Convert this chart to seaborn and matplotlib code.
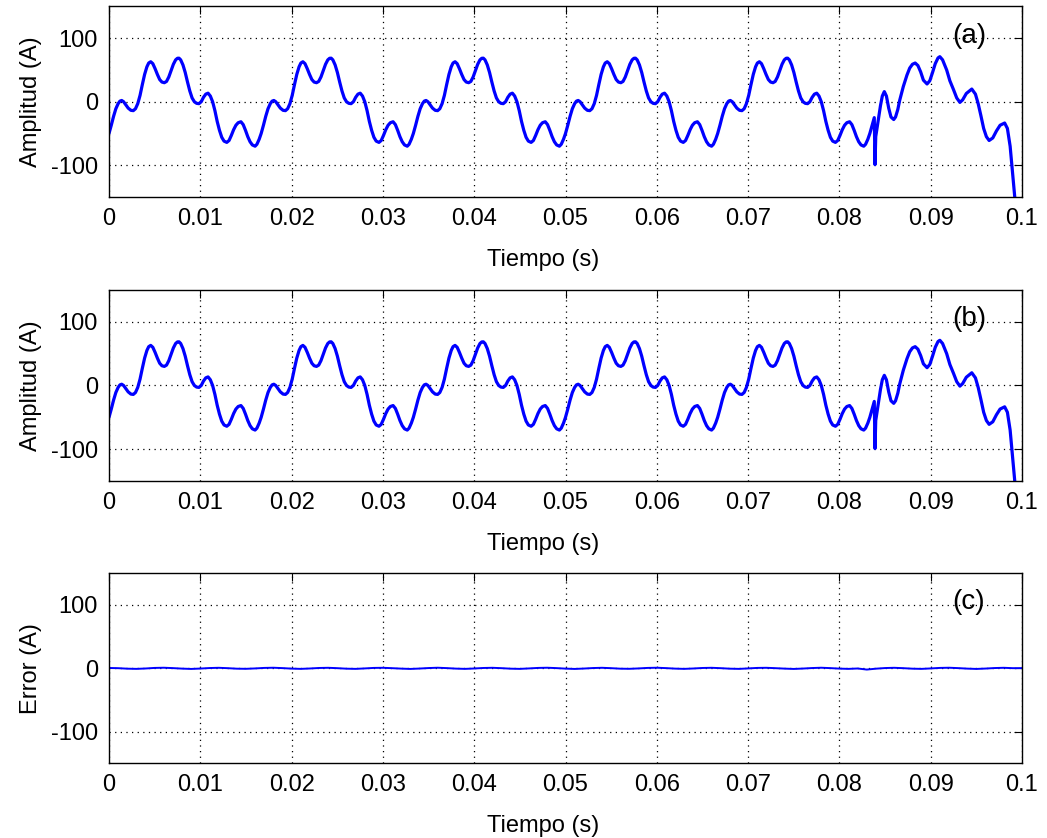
import numpy as np
import pandas as pd
import matplotlib
matplotlib.use("Agg")
import matplotlib.pyplot as plt
import seaborn as sns

# One steady-state cycle of the measured current (time in ms within the cycle, amplitude in A)
cycle_ms = [0.00, 0.25, 0.50, 0.75, 1.00, 1.20, 1.39, 1.60, 1.85, 2.10, 2.40, 2.66,
            2.90, 3.15, 3.40, 3.65, 3.90, 4.15, 4.35, 4.57, 4.80, 5.05, 5.30, 5.55,
            5.80, 6.06, 6.30, 6.55, 6.80, 7.05, 7.30, 7.50, 7.67, 7.85, 8.10, 8.35,
            8.60, 8.85, 9.10, 9.35, 9.60, 9.85, 10.10, 10.35, 10.60, 10.85, 11.10,
            11.35, 11.60, 11.85, 12.10, 12.35, 12.60, 12.90, 13.15, 13.40, 13.65,
            13.90, 14.15, 14.45, 14.70, 14.95, 15.20, 15.45, 15.70, 16.00, 16.20, 16.45]
cycle_amp = [-50, -37, -23, -11, -3, 1, 2, 0, -5, -10, -13.5, -14,
             -11, -3, 10, 27, 43, 55, 61, 63, 60, 52, 43, 35,
             31, 30, 32, 39, 49, 59, 66, 68.5, 68.6, 66, 58, 46,
             31, 17, 6, 0, -2.5, -3, 0, 7, 12, 13.5, 9,
             0, -14, -31, -45, -56, -62, -64, -61, -53, -44,
             -37, -33, -31.5, -36, -45, -55, -63, -68, -70, -67, -59]

# Fault transient and the last cycle (absolute time in ms, amplitude in A)
tail_ms = [83.82, 83.90, 83.98, 84.25, 84.50, 84.70, 84.92, 85.15, 85.40, 85.65,
           85.95, 86.15, 86.40, 86.60, 87.00, 87.40, 87.70, 88.00, 88.30, 88.60,
           88.90, 89.20, 89.60, 89.90, 90.20, 90.50, 90.80, 91.00, 91.30, 91.75,
           92.10, 92.50, 92.85, 93.20, 93.50, 93.90, 94.50, 94.90, 95.20, 95.50,
           95.80, 96.10, 96.40, 96.80, 97.20, 97.60, 98.10, 98.40, 98.70, 99.20,
           99.50, 100.0]
tail_amp = [-25, -99, -55, -30, -6, 9, 16, 9, -10, -24,
            -28, -24, -12, 2, 24, 42, 53, 59, 61, 57,
            47, 34, 28, 33, 46, 60, 69, 71, 66, 50,
            33, 19, 6, -1, 3, 13, 20, 12, -3, -22,
            -42, -55, -61, -57, -46, -37, -33.5, -42, -70, -149,
            -190, -280]

# Estimation error trace (1 ms steps, A)
err_amp = [0.5, 0.2, -0.6, -0.9, -0.3, 0.6, 0.9, 0.3, -0.5, -1.0, -0.4, 0.4, 0.8, 0.2,
           -0.6, -0.8, -0.2, 0.6, 0.9, 0.3, -0.5, -0.9, -0.3, 0.5, 0.8, 0.2, -0.6,
           -0.9, -0.2, 0.6, 0.8, 0.2, -0.5, -1.0, -0.4, 0.4, 0.9, 0.3, -0.5, -0.9,
           -0.3, 0.5, 0.8, 0.2, -0.6, -0.9, -0.2, 0.6, 0.9, 0.3, -0.5, -1.0, -0.4,
           0.4, 0.8, 0.2, -0.6, -0.8, -0.2, 0.6, 0.9, 0.3, -0.5, -0.9, -0.3, 0.5,
           0.8, 0.2, -0.6, -0.9, -0.2, 0.6, 0.8, 0.2, -0.5, -1.0, -0.4, 0.4, 0.9,
           0.3, -0.5, -0.9, -0.3, -2.0, -0.6, 0.4, 0.8, 0.2, -0.6, -0.9, -0.2, 0.6,
           0.9, 0.3, -0.5, -1.0, -0.4, 0.4, 0.8, 0.2, 0.3]

x_ticks = [0, 0.01, 0.02, 0.03, 0.04, 0.05, 0.06, 0.07, 0.08, 0.09, 0.1]
x_tick_labels = ["0", "0.01", "0.02", "0.03", "0.04", "0.05", "0.06", "0.07", "0.08", "0.09", "0.1"]
y_ticks = [-100, 0, 100]
y_tick_labels = ["-100", "0", "100"]
panel_tags = ["(a)", "(b)", "(c)"]
y_titles = ["Amplitud (A)", "Amplitud (A)", "Error (A)"]
x_title = "Tiempo (s)"

# Assemble the current trace: repeated 60 Hz cycles up to the fault, then the transient
period_ms = 1000.0 / 60.0
t_parts, a_parts = [], []
for k in range(6):
    tk = np.asarray(cycle_ms) + k * period_ms
    keep = tk < tail_ms[0]
    t_parts.append(tk[keep])
    a_parts.append(np.asarray(cycle_amp)[keep])
t_parts.append(np.asarray(tail_ms))
a_parts.append(np.asarray(tail_amp))
signal = pd.DataFrame({"t": np.concatenate(t_parts) / 1000.0,
                       "amp": np.concatenate(a_parts)})
error = pd.DataFrame({"t": np.arange(len(err_amp)) / 1000.0, "amp": err_amp})

sns.set_theme(style="white")
plt.rcParams["font.family"] = ["Liberation Sans", "DejaVu Sans"]
plt.rcParams["text.color"] = "black"
plt.rcParams["axes.labelcolor"] = "black"
plt.rcParams["xtick.color"] = "black"
plt.rcParams["ytick.color"] = "black"

fig = plt.figure(figsize=(10.47, 8.38), dpi=100)
W, H = 1047.0, 838.0
boxes = [(6.5, 197.0), (290.0, 481.0), (573.3, 763.3)]
left_px, right_px = 109.0, 1022.0

series = [signal, signal, error]
widths = [2.3, 2.3, 1.4]

for i, (top, bot) in enumerate(boxes):
    ax = fig.add_axes([left_px / W, 1 - bot / H, (right_px - left_px) / W, (bot - top) / H])
    sns.lineplot(data=series[i], x="t", y="amp", ax=ax, color="#0000ff",
                 linewidth=widths[i], estimator=None, sort=False)
    ax.set_xlim(0, 0.1)
    ax.set_ylim(-150, 150)
    ax.set_xticks(x_ticks)
    ax.set_xticklabels(x_tick_labels)
    ax.set_yticks(y_ticks)
    ax.set_yticklabels(y_tick_labels)
    ax.grid(True, color="black", linestyle=(0, (1, 3.5)), linewidth=0.9)
    ax.tick_params(direction="in", length=6, width=0.8, colors="black",
                   labelsize=17, top=True, right=True, pad=8)
    for sp in ax.spines.values():
        sp.set_color("black")
        sp.set_linewidth(1.0)
    ax.set_xlabel(x_title, fontsize=17, color="black")
    ax.xaxis.set_label_coords(0.476, -0.272)
    ax.set_ylabel(y_titles[i], fontsize=17, color="black", labelpad=6)
    ax.text(0.0942, 104, panel_tags[i], fontsize=20, ha="center", va="center", color="black")

fig.savefig("out.png", dpi=100)
